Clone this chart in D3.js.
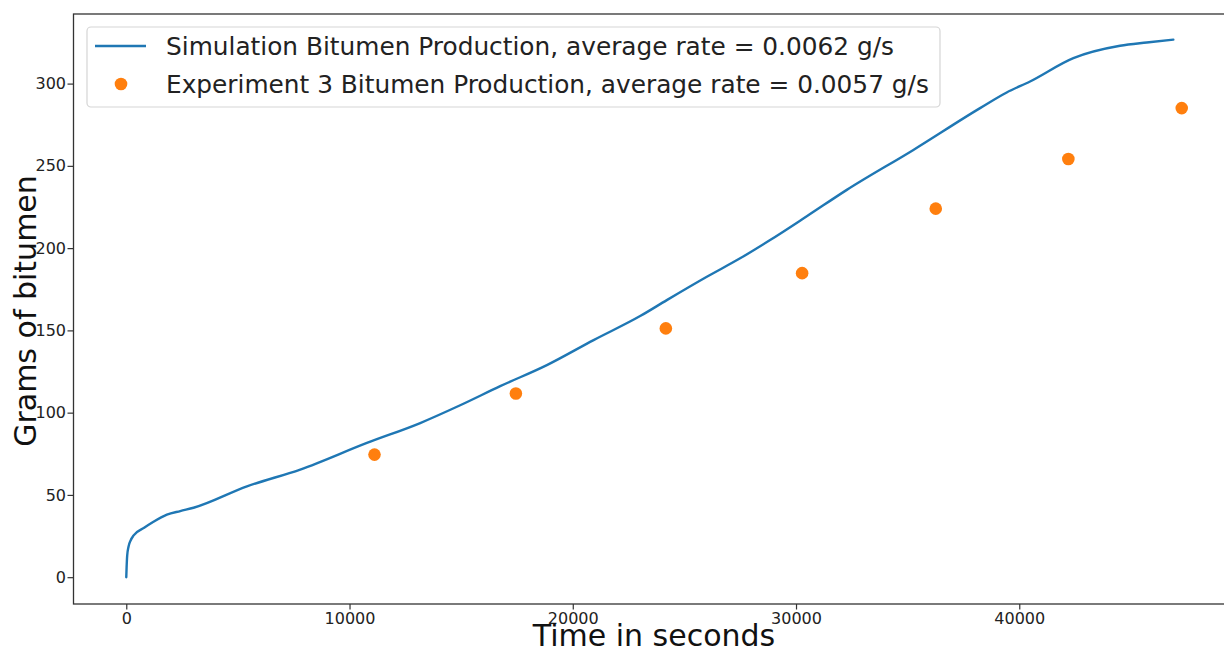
<!DOCTYPE html>
<html>
<head>
<meta charset="utf-8">
<script src="https://cdn.jsdelivr.net/npm/d3@7"></script>
<style>
  html, body { margin: 0; padding: 0; background: #fff; }
  svg { display: block; font-family: "DejaVu Sans", sans-serif; }
</style>
</head>
<body>
<svg id="chart" width="1224" height="650"></svg>
<script>
// ---- data ----
const simTime = [0, 15, 40, 100, 200, 330, 800, 1200, 1820, 2418, 3015, 5405, 7792, 10779, 13166, 14957, 16749,
  18840, 20932, 23018, 24212, 26005, 27496, 28840, 30500, 32275, 35257, 38244, 39437, 40483, 42424, 44514, 45710, 46901];
const simGrams = [0, 6, 13, 18.5, 22.5, 25.4, 30, 33.5, 38, 40.2, 42.2, 55.2, 65.4, 81.6, 93.7, 104.5, 116.1,
  128.9, 144.1, 158.7, 168.4, 182.6, 193.8, 204.9, 219.5, 235.4, 259.7, 285.1, 294.6, 301.3, 315.5, 323, 325, 326.7];
const expTime = [11119, 17452, 24169, 30273, 36259, 42199, 47277];
const expGrams = [74.5, 111.6, 151.2, 184.8, 224, 254.2, 285.1];
const xTicks = [0, 10000, 20000, 30000, 40000];
const yTicks = [0, 50, 100, 150, 200, 250, 300];
const legendLabels = [
  "Simulation Bitumen Production, average rate = 0.0062 g/s",
  "Experiment 3 Bitumen Production, average rate = 0.0057 g/s"
];
const xTitle = "Time in seconds";
const yTitle = "Grams of bitumen";

// ---- layout ----
const svg = d3.select("#chart");
const mLeft = 73.5, mTop = 14, mBottom = 604, mRight = 1234.5;
const xMin = -2364, xMax = 49641, yMin = -16.3, yMax = 342.3;
const x = d3.scaleLinear().domain([xMin, xMax]).range([mLeft, mRight]);
const y = d3.scaleLinear().domain([yMin, yMax]).range([mBottom, mTop]);

const blue = "#1f77b4", orange = "#ff7f0e", axisCol = "#333";

// line
const sim = simTime.map((t, i) => [t, simGrams[i]]);
svg.append("path")
  .datum(sim)
  .attr("fill", "none")
  .attr("stroke", blue)
  .attr("stroke-width", 2.4)
  .attr("stroke-linejoin", "round")
  .attr("stroke-linecap", "round")
  .attr("d", d3.line().x(d => x(d[0])).y(d => y(d[1])).curve(d3.curveMonotoneX));

// scatter
svg.append("g").selectAll("circle")
  .data(expTime.map((t, i) => [t, expGrams[i]]))
  .join("circle")
  .attr("cx", d => x(d[0]))
  .attr("cy", d => y(d[1]))
  .attr("r", 6.3)
  .attr("fill", orange);

// axes
const xAxis = d3.axisBottom(x).tickValues(xTicks).tickFormat(d3.format("d")).tickSize(5.5).tickPadding(3);
const yAxis = d3.axisLeft(y).tickValues(yTicks).tickFormat(d3.format("d")).tickSize(6).tickPadding(1.5);

const gx = svg.append("g").attr("transform", `translate(0,${mBottom})`).call(xAxis);
const gy = svg.append("g").attr("transform", `translate(${mLeft},0)`).call(yAxis);
[gx, gy].forEach(g => {
  g.select(".domain").remove();
  g.selectAll(".tick line").attr("stroke", axisCol).attr("stroke-width", 1.2);
  g.selectAll(".tick text").attr("fill", "#222").style("font-size", "16px").style("font-family", "DejaVu Sans");
});

// spines
svg.append("rect")
  .attr("x", mLeft).attr("y", mTop)
  .attr("width", mRight - mLeft).attr("height", mBottom - mTop)
  .attr("fill", "none").attr("stroke", axisCol).attr("stroke-width", 1.3);

// axis titles
svg.append("text")
  .attr("x", (mLeft + mRight) / 2).attr("y", 646)
  .attr("text-anchor", "middle")
  .style("font-size", "30px").attr("fill", "#111")
  .text(xTitle);
svg.append("text")
  .attr("transform", `translate(36,${(mTop + mBottom) / 2 + 2}) rotate(-90)`)
  .attr("text-anchor", "middle")
  .style("font-size", "30px").attr("fill", "#111")
  .text(yTitle);

// legend
const lg = svg.append("g");
lg.append("rect")
  .attr("x", 87).attr("y", 27).attr("width", 853).attr("height", 80)
  .attr("rx", 4).attr("fill", "#fff").attr("fill-opacity", 0.8)
  .attr("stroke", "#d5d5d5").attr("stroke-width", 1.2);
lg.append("line")
  .attr("x1", 95).attr("x2", 146).attr("y1", 46).attr("y2", 46)
  .attr("stroke", blue).attr("stroke-width", 2.4);
lg.append("circle").attr("cx", 121).attr("cy", 84).attr("r", 6.3).attr("fill", orange);
lg.selectAll("text.lab")
  .data(legendLabels)
  .join("text")
  .attr("class", "lab")
  .attr("x", 166)
  .attr("y", (d, i) => 46 + i * 38)
  .attr("dy", "0.35em")
  .style("font-size", "24.8px")
  .attr("fill", "#222")
  .text(d => d);
</script>
</body>
</html>
